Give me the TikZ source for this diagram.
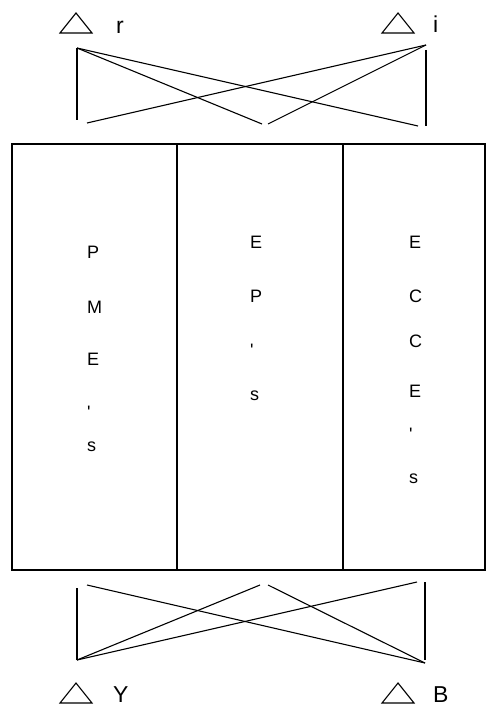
\documentclass[tikz,border=0pt]{standalone}
\usepackage{fontspec}
\setmainfont{Liberation Sans}
\begin{document}
\begin{tikzpicture}[x=1pt,y=-1pt,
  ln/.style={line width=1.1pt},
  box/.style={line width=1.6pt},
  ch/.style={inner sep=0pt,anchor=base west,font=\fontsize{18}{18}\selectfont},
  lbl/.style={inner sep=0pt,anchor=base west,font=\fontsize{23}{23}\selectfont},
  tri/.style={line width=1.1pt}]
\useasboundingbox (0,0) rectangle (497,706);
% frame
\draw[box] (12,144) rectangle (485,570);
\draw[box] (177,144) -- (177,570);
\draw[box] (343,144) -- (343,570);
% column text
\foreach \c/\y [count=\i] in {P/258,M/313,E/365,\textquotesingle/418,s/451}
  \node[ch] (a\i) at (87,\y) {\c};
\foreach \c/\y [count=\i] in {E/248,P/302,\textquotesingle/356,s/400}
  \node[ch] (b\i) at (250,\y) {\c};
\foreach \c/\y [count=\i] in {E/248,C/302,C/347,E/397,\textquotesingle/440,s/483}
  \node[ch] (c\i) at (409,\y) {\c};
% top triangles and labels
\draw[tri] (76,13) -- (92,33) -- (60,33) -- cycle;
\node[lbl] (r) at (116,34) {r};
\draw[tri] (398,13) -- (414,33) -- (382,33) -- cycle;
\node[lbl] (i) at (433,33) {i};
% top crossing lines
\coordinate (tl) at (77,48);
\coordinate (tr) at (426,45);
\coordinate (tlb) at (77,120);
\coordinate (trt) at (426,50);
\coordinate (trb) at (426,126);
\coordinate (t1) at (87,123);
\coordinate (t2) at (262,124);
\coordinate (t3) at (268,124);
\coordinate (t4) at (418,126);
\draw[ln] (tl) -- (tlb);
\draw[ln] (tl) -- (t2);
\draw[ln] (tl) -- (t4);
\draw[ln] (trt) -- (trb);
\draw[ln] (tr) -- (t1);
\draw[ln] (tr) -- (t3);
% bottom crossing lines
\coordinate (bl) at (77,660);
\coordinate (br) at (425,663);
\coordinate (blt) at (77,588);
\coordinate (brt) at (425,582);
\coordinate (brb) at (425,660);
\coordinate (b1) at (87,585);
\coordinate (b2) at (260,585);
\coordinate (b3) at (268,585);
\coordinate (b4) at (417,582);
\draw[ln] (blt) -- (bl);
\draw[ln] (bl) -- (b2);
\draw[ln] (bl) -- (b4);
\draw[ln] (brt) -- (brb);
\draw[ln] (br) -- (b1);
\draw[ln] (br) -- (b3);
% bottom triangles and labels
\draw[tri] (76,683) -- (92,703) -- (60,703) -- cycle;
\node[lbl] (Y) at (113,702) {Y};
\draw[tri] (398,683) -- (414,703) -- (382,703) -- cycle;
\node[lbl] (B) at (433,702) {B};
\end{tikzpicture}
\end{document}
